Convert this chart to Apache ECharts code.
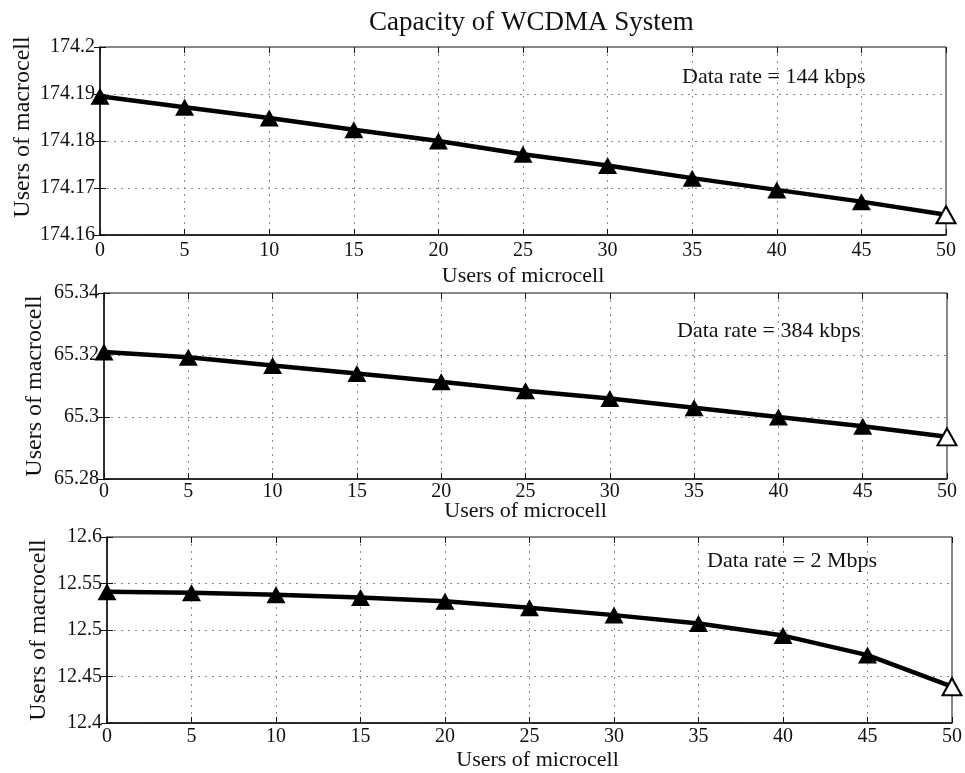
<!DOCTYPE html>
<html>
<head>
<meta charset="utf-8">
<title>Capacity of WCDMA System</title>
<script src="https://cdn.jsdelivr.net/npm/echarts@6/dist/echarts.min.js"></script>
<style>
  html, body { margin: 0; padding: 0; background: #fff; }
</style>
</head>
<body>
<div id="chart" style="width: 965px; height: 773px"></div>
<script>
// users of microcell (x axis, shared by all three panels)
var microUsers = [0, 5, 10, 15, 20, 25, 30, 35, 40, 45, 50];

// users of macrocell
var rate144k = [174.1895, 174.1872, 174.1849, 174.1824, 174.1800, 174.1772, 174.1748, 174.1721, 174.1696, 174.1671, 174.1643];
var rate384k = [65.3210, 65.3193, 65.3166, 65.3140, 65.3114, 65.3085, 65.3060, 65.3030, 65.3000, 65.2970, 65.2936];
var rate2M = [12.541, 12.540, 12.538, 12.535, 12.531, 12.524, 12.516, 12.507, 12.494, 12.473, 12.439];

// y axis ranges per panel [min, max, interval]
var yRange144k = [174.16, 174.2, 0.01];
var yRange384k = [65.28, 65.34, 0.02];
var yRange2M = [12.4, 12.6, 0.05];

var panelLabels = ["Data rate = 144 kbps", "Data rate = 384 kbps", "Data rate = 2 Mbps"];

var font = "Liberation Serif";

var chart = echarts.init(document.getElementById("chart"));

function toPoints(ys) {
  return microUsers.map(function (x, i) {
    var item = { value: [x, ys[i]] };
    // the last marker in each panel looks hollow in the scan
    if (i === microUsers.length - 1) {
      item.itemStyle = { color: "#fff", borderColor: "#000", borderWidth: 2 };
    }
    return item;
  });
}

function fmt(v) {
  return parseFloat(v.toFixed(4)).toString();
}

var grids = [
  { left: 100, right: 19, top: 47, height: 188 },
  { left: 104, right: 18, top: 293, height: 186 },
  { left: 107, right: 13, top: 537, height: 186 },
];
var ranges = [yRange144k, yRange384k, yRange2M];
var seriesData = [rate144k, rate384k, rate2M];
// per panel spacing of the axis titles / labels, as in the scan
var xNameGap = [30, 21, 26];
var xNamePad = [[0, 0, 0, 0], [0, 0, 0, 0], [0, 0, 0, 16]];
var xLabelMargin = [6, 3, 4];
var yNameGap = [65, 57, 56];
var yNamePad = [[0, 0, 0, 28], [0, 0, 0, 0], [0, 0, 0, 0]];

var xAxes = [];
var yAxes = [];
var series = [];

grids.forEach(function (g, i) {
  g.show = true;
  g.borderColor = "#111";
  g.borderWidth = 1;
  g.backgroundColor = "#fff";
  g.outerBoundsMode = "none";
  g.containLabel = false;

  xAxes.push({
    gridIndex: i,
    type: "value",
    min: 0,
    max: 50,
    interval: 5,
    name: "Users of microcell",
    nameLocation: "middle",
    nameGap: xNameGap[i],
    nameMoveOverlap: false,
    nameTextStyle: { fontFamily: font, fontSize: 22, color: "#111", padding: xNamePad[i] },
    axisLine: { show: true, lineStyle: { color: "#111", width: 1.5 } },
    axisTick: { show: true, inside: true, length: 6, lineStyle: { color: "#111" } },
    axisLabel: { fontFamily: font, fontSize: 20, color: "#111", margin: xLabelMargin[i] },
    splitLine: { show: true, lineStyle: { color: "#888", type: [2, 5], width: 1 } },
  });
  // top ticks
  xAxes.push({
    gridIndex: i,
    type: "value",
    position: "top",
    min: 0,
    max: 50,
    interval: 5,
    axisLine: { show: false },
    axisTick: { show: true, inside: true, length: 6, lineStyle: { color: "#111" } },
    axisLabel: { show: false },
    splitLine: { show: false },
  });

  var r = ranges[i];
  yAxes.push({
    gridIndex: i,
    type: "value",
    min: r[0],
    max: r[1],
    interval: r[2],
    name: "Users of macrocell",
    nameLocation: "middle",
    nameGap: yNameGap[i],
    nameMoveOverlap: false,
    nameTextStyle: { fontFamily: font, fontSize: 24, color: "#111", padding: yNamePad[i] },
    axisLine: { show: true, lineStyle: { color: "#111", width: 1.5 } },
    axisTick: { show: true, inside: true, length: 6, lineStyle: { color: "#111" } },
    axisLabel: { fontFamily: font, fontSize: 20, color: "#111", margin: 5, formatter: fmt },
    splitLine: { show: true, lineStyle: { color: "#888", type: [2, 5], width: 1 } },
  });
  // right ticks
  yAxes.push({
    gridIndex: i,
    type: "value",
    position: "right",
    min: r[0],
    max: r[1],
    interval: r[2],
    axisLine: { show: false },
    axisTick: { show: true, inside: true, length: 6, lineStyle: { color: "#111" } },
    axisLabel: { show: false },
    splitLine: { show: false },
  });

  series.push({
    type: "line",
    xAxisIndex: i * 2,
    yAxisIndex: i * 2,
    data: toPoints(seriesData[i]),
    symbol: "triangle",
    symbolSize: [19, 17],
    showAllSymbol: true,
    clip: false,
    itemStyle: { color: "#000" },
    lineStyle: { color: "#000", width: 4.5 },
    z: 5,
  });
});

var option = {
  backgroundColor: "#fff",
  animation: false,
  title: {
    text: "Capacity of WCDMA System",
    left: 364,
    top: 4,
    textStyle: { fontFamily: font, fontSize: 27, fontWeight: "normal", color: "#111" },
  },
  grid: grids,
  xAxis: xAxes,
  yAxis: yAxes,
  series: series,
  graphic: [
    { type: "text", left: 682, top: 66, style: { text: panelLabels[0], font: "22px " + font, fill: "#111" } },
    { type: "text", left: 677, top: 320, style: { text: panelLabels[1], font: "22px " + font, fill: "#111" } },
    { type: "text", left: 707, top: 550, style: { text: panelLabels[2], font: "22px " + font, fill: "#111" } },
  ],
};

chart.setOption(option);
</script>
</body>
</html>
